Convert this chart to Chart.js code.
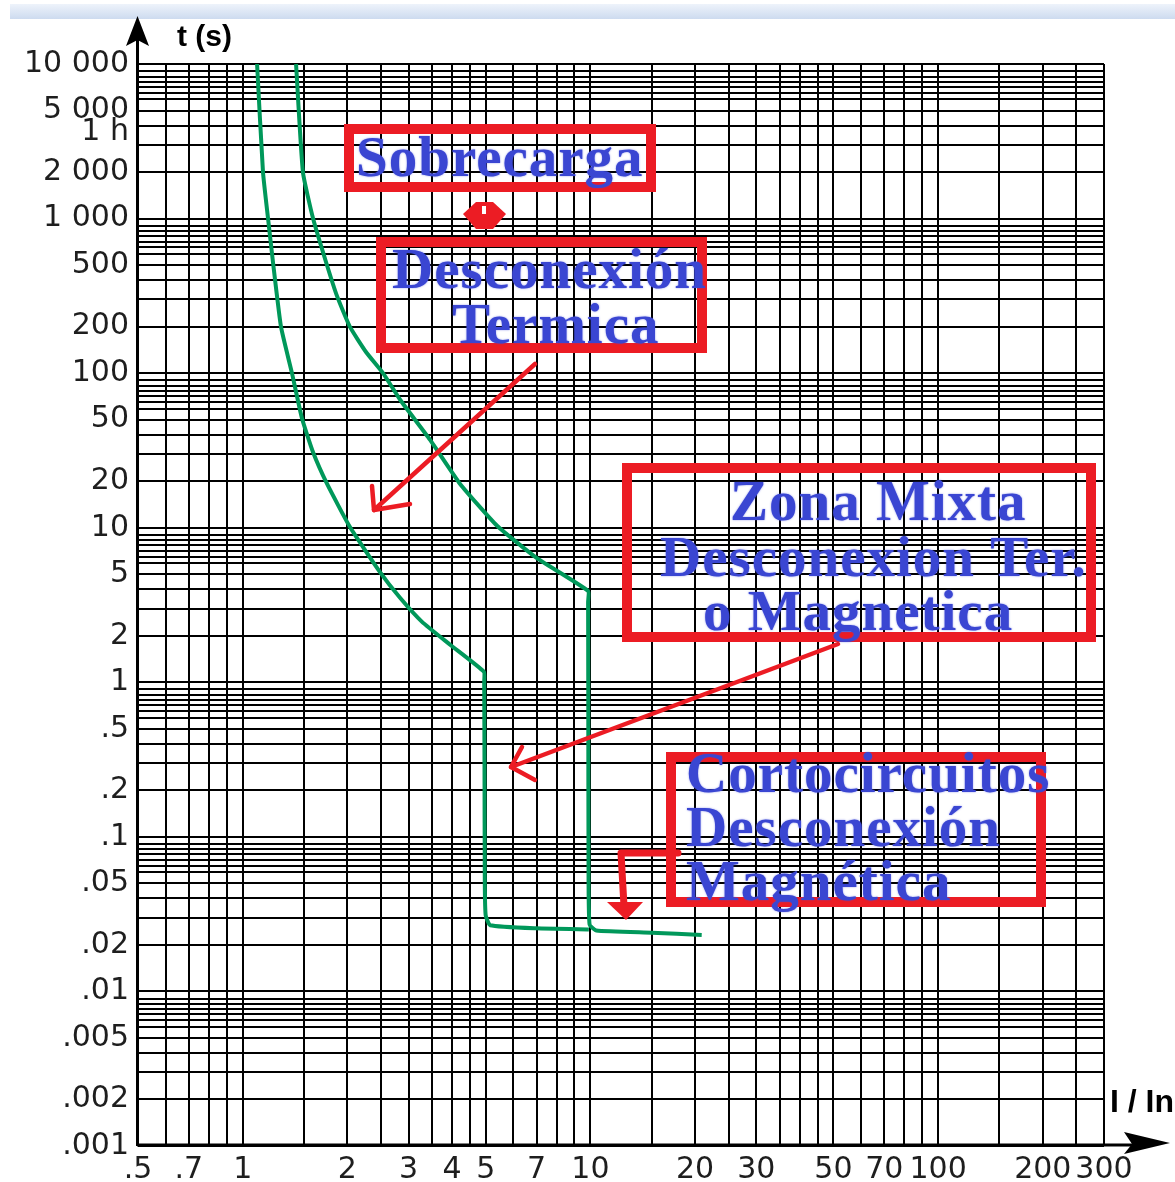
<!DOCTYPE html>
<html>
<head>
<meta charset="utf-8">
<script src="https://cdn.jsdelivr.net/npm/chart.js@4.4.1/dist/chart.umd.min.js"></script>
<style>
html, body { margin: 0; padding: 0; background: #fff; }
#wrap { position: relative; width: 1175px; height: 1182px; }
</style>
</head>
<body>
<div id="wrap"><canvas id="chart"></canvas></div>
<script>
// tripping curves: I/In on x, t (s) on y
const leftCurveX = [1.10, 1.144, 1.183, 1.223, 1.289, 1.386, 1.48, 1.593, 1.749, 2.035, 2.48, 2.835, 3.28, 3.95, 4.94, 4.95, 4.96, 4.97, 5.0, 5.15, 7.0, 9.9];
const leftCurveY = [10000, 2000, 1000, 516, 199, 100, 51.3, 30.9, 19.2, 10.1, 5.18, 3.52, 2.46, 1.75, 1.17, 1.0, 0.3, 0.05, 0.031, 0.0268, 0.0256, 0.0252];
const rightCurveX = [1.424, 1.49, 1.594, 1.74, 1.867, 2.035, 2.263, 2.533, 2.84, 3.46, 4.22, 5.39, 7.0, 9.85, 9.85, 9.86, 9.88, 9.95, 10.4, 15, 20.9];
const rightCurveY = [10000, 2000, 1000, 516, 316, 199, 137, 100, 67, 37, 19.2, 10.3, 6.38, 3.9, 3.3, 1.0, 0.05, 0.027, 0.0248, 0.024, 0.0232];

// axis grid and labels
const xGridValues = [0.5, 0.6, 0.7, 0.8, 0.9, 1, 1.5, 2, 2.5, 3, 3.5, 4, 4.5, 5, 6, 7, 8, 9, 10, 15, 20, 25, 30, 35, 40, 45, 50, 60, 70, 80, 90, 100, 150, 200, 250, 300];
const xTickValues = [0.5, 0.7, 1, 2, 3, 4, 5, 7, 10, 20, 30, 50, 70, 100, 200, 300];
const xTickLabels = ['.5', '.7', '1', '2', '3', '4', '5', '7', '10', '20', '30', '50', '70', '100', '200', '300'];

const yDecades = [0.001, 0.01, 0.1, 1, 10, 100, 1000];
const yGridSteps = [1, 2, 3, 4, 5, 5.9, 6.5, 7.1, 7.7, 8.3, 9];
const yTickValues = [10000, 5000, 3600, 2000, 1000, 500, 200, 100, 50, 20, 10, 5, 2, 1, 0.5, 0.2, 0.1, 0.05, 0.02, 0.01, 0.005, 0.002, 0.001];
const yTickLabels = ['10 000', '5 000', '1 h', '2 000', '1 000', '500', '200', '100', '50', '20', '10', '5', '2', '1', '.5', '.2', '.1', '.05', '.02', '.01', '.005', '.002', '.001'];

var yGridValues = [];
yDecades.forEach(d => yGridSteps.forEach(s => yGridValues.push(+(d * s).toPrecision(4))));
yGridValues.push(10000, 3600);

function near(a, b) { return Math.abs(a - b) / b < 1e-6; }
function labelFor(values, labels, v) {
    for (var i = 0; i < values.length; i++) {
        if (near(values[i], v)) return labels[i];
    }
    return '';
}
function toPoints(xs, ys) { return xs.map((x, i) => ({ x: x, y: ys[i] })); }

const GREEN = '#00985a';
const RED = '#ec1c24';
const BLUE = '#3a46d2';

const overlay = {
    id: 'overlay',
    beforeDraw(chart) {
        const c = chart.ctx;
        c.save();
        const g = c.createLinearGradient(0, 4, 0, 19);
        g.addColorStop(0, '#eef3fb');
        g.addColorStop(1, '#cddbef');
        c.fillStyle = g;
        c.fillRect(10, 4, 1165, 15);
        c.restore();
    },
    afterDraw(chart) {
        const c = chart.ctx;
        c.save();
        // axes with arrows
        c.strokeStyle = '#000';
        c.fillStyle = '#000';
        c.lineWidth = 3;
        c.beginPath(); c.moveTo(137.5, 1146); c.lineTo(137.5, 38); c.stroke();
        c.beginPath(); c.moveTo(137, 1145); c.lineTo(1140, 1145); c.stroke();
        c.beginPath(); c.moveTo(137.5, 16); c.lineTo(149, 46); c.lineTo(137.5, 40); c.lineTo(126, 46); c.closePath(); c.fill();
        c.beginPath(); c.moveTo(1170, 1143); c.lineTo(1124, 1132); c.lineTo(1132, 1144); c.lineTo(1124, 1154); c.closePath(); c.fill();
        c.font = 'bold 30px "Liberation Sans", Arial, sans-serif';
        c.textBaseline = 'alphabetic';
        c.fillText('t (s)', 177, 46);
        c.font = 'bold 32px "Liberation Sans", Arial, sans-serif';
        c.fillText('I / In', 1110, 1112);

        // red boxes
        c.strokeStyle = RED;
        c.lineWidth = 10;
        c.strokeRect(349, 129, 302, 58);
        c.strokeRect(381, 242, 321, 106);
        c.strokeRect(627, 468, 464, 169);
        c.strokeRect(671, 757, 370, 145);

        // small double marker between the first boxes
        c.fillStyle = RED;
        c.beginPath();
        c.moveTo(463, 214); c.lineTo(476, 202); c.lineTo(493, 202); c.lineTo(506, 214);
        c.lineTo(493, 229); c.lineTo(476, 229); c.closePath(); c.fill();
        c.fillStyle = '#fff';
        c.fillRect(482, 206, 4, 8);

        // arrows
        c.lineWidth = 4.5;
        c.lineCap = 'round';
        c.lineJoin = 'round';
        c.beginPath(); c.moveTo(535, 364); c.lineTo(374, 510); c.stroke();
        c.beginPath(); c.moveTo(372, 486); c.lineTo(374, 510); c.lineTo(410, 504); c.stroke();
        c.beginPath(); c.moveTo(838, 644); c.lineTo(511, 767); c.stroke();
        c.beginPath(); c.moveTo(522, 747); c.lineTo(511, 767); c.lineTo(535, 780); c.stroke();
        c.lineWidth = 7;
        c.beginPath(); c.moveTo(678, 853); c.lineTo(621, 853); c.lineTo(624, 906); c.stroke();
        c.fillStyle = RED;
        c.beginPath(); c.moveTo(607, 902); c.lineTo(643, 902); c.lineTo(626, 920); c.closePath(); c.fill();

        // blue notes
        c.fillStyle = BLUE;
        c.shadowColor = 'rgba(70,80,220,0.6)';
        c.shadowBlur = 2;
        c.font = 'bold 57px "Liberation Serif", "Times New Roman", serif';
        c.letterSpacing = '1px';
        c.fillText('Sobrecarga', 356, 176);
        c.fillText('Desconexión', 392, 288);
        c.fillText('Termica', 452, 343);
        c.fillText('Zona Mixta', 730, 520);
        c.fillText('Desconexion Ter.', 660, 576);
        c.fillText('o Magnetica', 703, 630);
        c.fillText('Cortocircuitos', 686, 792);
        c.fillText('Desconexión', 686, 846);
        c.fillText('Magnética', 686, 900);
        c.restore();
    }
};

const tickFont = { family: '"DejaVu Sans", Verdana, sans-serif', size: 30 };

new Chart(document.getElementById('chart'), {
    type: 'scatter',
    data: {
        datasets: [
            { data: toPoints(leftCurveX, leftCurveY), showLine: true, borderColor: GREEN, borderWidth: 4, pointRadius: 0, tension: 0.15 },
            { data: toPoints(rightCurveX, rightCurveY), showLine: true, borderColor: GREEN, borderWidth: 4, pointRadius: 0, tension: 0.15 }
        ]
    },
    options: {
        responsive: true,
        maintainAspectRatio: false,
        animation: false,
        layout: { padding: { top: 64, right: 71, left: 0, bottom: 0 } },
        plugins: { legend: { display: false }, tooltip: { enabled: false } },
        scales: {
            x: {
                type: 'logarithmic',
                min: 0.5,
                max: 300,
                afterBuildTicks: s => { s.ticks = xGridValues.map(v => ({ value: v })); },
                afterFit: s => { s.height = 36; },
                grid: { color: '#000', lineWidth: 2, drawTicks: false },
                border: { display: false },
                ticks: {
                    autoSkip: false, maxRotation: 0, minRotation: 0, padding: 6,
                    color: '#1e1e1e', font: tickFont,
                    callback: v => labelFor(xTickValues, xTickLabels, v)
                }
            },
            y: {
                type: 'logarithmic',
                min: 0.001,
                max: 10000,
                afterBuildTicks: s => { s.ticks = yGridValues.map(v => ({ value: v })); },
                afterFit: s => { s.width = 138; },
                grid: {
                    lineWidth: 2, drawTicks: false,
                    color: ctx => (ctx.tick && near(ctx.tick.value, 3600)) ? 'rgba(0,0,0,0)' : '#000'
                },
                border: { display: false },
                ticks: {
                    autoSkip: false, padding: 9,
                    color: '#1e1e1e', font: tickFont,
                    callback: v => labelFor(yTickValues, yTickLabels, v)
                }
            }
        }
    },
    plugins: [overlay]
});
</script>
</body>
</html>
